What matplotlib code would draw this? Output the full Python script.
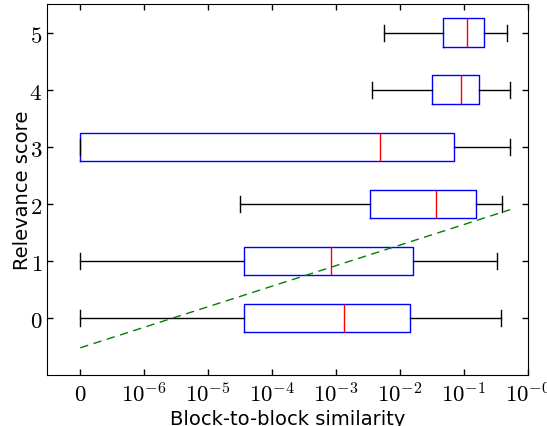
import matplotlib
matplotlib.use("Agg")
import matplotlib.pyplot as plt
from matplotlib.ticker import NullLocator

plt.rcParams['mathtext.fontset'] = 'cm'

# relevance scores (one box per score)
scores = [0, 1, 2, 3, 4, 5]

# box statistics (block-to-block similarity)
whislo = [0.0, 0.0, 3.1e-5, 0.0, 3.6e-3, 5.7e-3]
q1 = [3.7e-5, 3.6e-5, 3.45e-3, 0.0, 0.032, 0.047]
med = [1.34e-3, 8.4e-4, 0.036, 4.9e-3, 0.091, 0.113]
q3 = [0.0145, 0.0162, 0.153, 0.069, 0.170, 0.208]
whishi = [0.378, 0.328, 0.393, 0.524, 0.524, 0.464]

# dashed trend line
trend_x = [0.0, 0.53]
trend_y = [-0.52, 1.9]

xticks = [0, 1e-6, 1e-5, 1e-4, 1e-3, 1e-2, 1e-1, 1]
xticklabels = ['$0$'] + ['$10^{-%d}$' % k for k in range(6, -1, -1)]

stats = []
for i in range(len(scores)):
    stats.append({'whislo': whislo[i], 'q1': q1[i], 'med': med[i],
                  'q3': q3[i], 'whishi': whishi[i], 'fliers': []})

fig = plt.figure(figsize=(5.47, 4.27), dpi=100)
ax = fig.add_axes([0.086, 0.119, 0.879, 0.869])

ax.bxp(stats, positions=scores, widths=0.5, capwidths=0.28,
       orientation='horizontal', showfliers=False,
       boxprops=dict(color='blue', linewidth=1),
       medianprops=dict(color='red', linewidth=1),
       whiskerprops=dict(color='black', linewidth=1),
       capprops=dict(color='black', linewidth=1))

ax.plot(trend_x, trend_y, '--', color='green', linewidth=1, dashes=(6, 4))

ax.set_xscale('symlog', linthresh=1e-6, linscale=0.9)
ax.set_xlim(-0.52e-6, 1)
ax.set_ylim(-1, 5.5)
ax.set_xticks(xticks)
ax.set_xticklabels(xticklabels, fontsize=16.5)
ax.set_yticks(scores)
ax.set_yticklabels(['$%d$' % s for s in scores], fontsize=16.5)
ax.xaxis.set_minor_locator(NullLocator())
ax.yaxis.set_minor_locator(NullLocator())
ax.tick_params(direction='in', top=True, right=True, length=4, width=1)
ax.tick_params(axis='x', pad=5)

ax.set_xlabel('Block-to-block similarity', fontsize=14, labelpad=2)
ax.set_ylabel('Relevance score', fontsize=14, labelpad=-2)

fig.savefig('out.png')
